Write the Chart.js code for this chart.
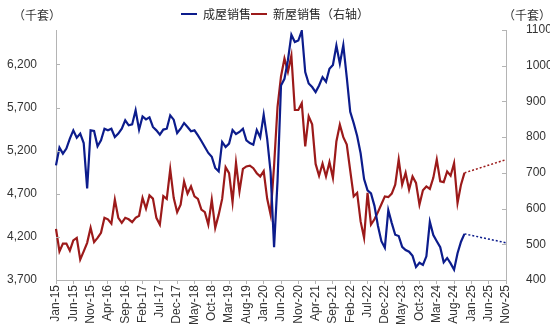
<!DOCTYPE html>
<html>
<head>
<meta charset="utf-8">
<script src="https://cdn.jsdelivr.net/npm/chart.js@4.4.1/dist/chart.umd.min.js"></script>
<style>
    html, body { margin: 0; padding: 0; background: #ffffff; }
    #chartBox { width: 550px; height: 334px; position: relative; }
</style>
</head>
<body>
<div id="chartBox"><canvas id="myChartSales"></canvas></div>
<script>
//DATA
const seriesNames = ['成屋销售', '新屋销售（右轴）'];
const seriesColors = ['#0c1c8c', '#9c1a1a'];
const unitLabel = '（千套）';

// existing home sales, left axis, Jan-15 onwards
const existingSales = [
    5030, 5236, 5166, 5224, 5340, 5436, 5351, 5398, 5289, 4761, 5436, 5428,
    5251, 5320, 5455, 5436, 5455, 5359, 5398, 5455, 5552, 5494, 5505, 5668,
    5444, 5598, 5563, 5586, 5475, 5436, 5386, 5445, 5455, 5610, 5560, 5405,
    5455, 5521, 5475, 5425, 5436, 5378, 5313, 5243, 5174, 5130, 5000, 4960,
    5301, 5243, 5282, 5440, 5393, 5417, 5455, 5320, 5289, 5270, 5440, 5355,
    5618, 5340, 4950, 4080, 4850, 5957, 6034, 6250, 6545, 6460, 6478, 6590,
    6111, 5980, 5938, 5880, 5957, 6053, 6000, 6150, 6195, 6420, 6210, 6425,
    6050, 5650, 5520, 5370, 5170, 4870, 4740, 4705, 4560, 4330, 4150, 4075,
    4510, 4360, 4225, 4210, 4085, 4048, 4028, 3980, 3850, 3900, 3875, 3975,
    4375, 4221, 4150, 4080, 3905, 3955, 3893, 3820, 4010, 4144, 4235
];

// new home sales, right axis
const newSales = [
    543, 480, 502, 502, 482, 511, 518, 457, 480, 504, 546, 506,
    518, 532, 574, 570, 558, 625, 574, 560, 574, 570, 562, 574,
    580, 630, 600, 637, 628, 574, 555, 635, 627, 710, 630, 590,
    611, 676, 642, 662, 634, 627, 597, 590, 555, 625, 546, 583,
    627, 716, 699, 618, 728, 648, 711, 718, 720, 713, 699, 690,
    705, 628, 583, 720, 885, 970, 1020, 983, 1028, 876, 876, 895,
    774, 858, 836, 725, 692, 726, 690, 730, 686, 788, 835, 800,
    779, 706, 634, 644, 564, 518, 644, 555, 570, 590, 612, 634,
    632, 642, 667, 737, 667, 700, 653, 690, 672, 611, 651, 662,
    655, 686, 737, 676, 674, 704, 692, 727, 616, 667, 700
];

// dotted trend to the end of the axis
const existingTrendEnd = 4132;
const newTrendEnd = 737;

// tick labels
const leftTicks = [3700, 4200, 4700, 5200, 5700, 6200];
const rightTicks = [400, 500, 600, 700, 800, 900, 1000, 1100];

//MONTH CATEGORIES Jan-15 .. Nov-25
const monthNames = ['Jan', 'Feb', 'Mar', 'Apr', 'May', 'Jun', 'Jul', 'Aug', 'Sep', 'Oct', 'Nov', 'Dec'];
const months = [];
for (let i = 0; i <= 130; i++) {
    let year = 15 + Math.floor(i / 12);
    months.push(monthNames[i % 12] + '-' + year);
}
const lastActual = existingSales.length - 1;

//SMALL INWARD TICKS ON BOTH VALUE AXES + UNIT LABELS
const axisDecor = {
    id: 'axisDecor',
    afterDraw: (chart) => {
        const ctx = chart.ctx;
        const area = chart.chartArea;
        ctx.save();
        ctx.strokeStyle = '#b4b4b4';
        ctx.lineWidth = 1;
        ['y', 'y1'].forEach((id) => {
            const scale = chart.scales[id];
            scale.ticks.forEach((t) => {
                let py = Math.round(scale.getPixelForValue(t.value)) + 0.5;
                let px = id === 'y' ? area.left : area.right;
                let dir = id === 'y' ? 1 : -1;
                ctx.beginPath();
                ctx.moveTo(px, py);
                ctx.lineTo(px + dir * 4, py);
                ctx.stroke();
            });
        });
        ctx.fillStyle = '#333333';
        ctx.font = '12px "Noto Sans CJK SC", sans-serif';
        ctx.textBaseline = 'middle';
        ctx.textAlign = 'center';
        ctx.fillText(unitLabel, area.left - 19, 15);
        ctx.fillText(unitLabel, area.right + 21, 15);
        ctx.restore();
    }
};

const tickFont = { family: '"Liberation Sans", Arial, sans-serif', size: 12 };

const ctx = document.getElementById('myChartSales');

new Chart(ctx, {
    type: 'line',
    data: {
        labels: months,
        datasets: [{
            label: seriesNames[0],
            data: existingSales,
            borderColor: seriesColors[0],
            backgroundColor: seriesColors[0],
            borderWidth: 2.2,
            pointRadius: 0,
            tension: 0,
            yAxisID: 'y'
        }, {
            label: seriesNames[1],
            data: newSales,
            borderColor: seriesColors[1],
            backgroundColor: seriesColors[1],
            borderWidth: 2.2,
            pointRadius: 0,
            tension: 0,
            yAxisID: 'y1'
        }, {
            label: 'trend0',
            data: [{ x: months[lastActual], y: existingSales[lastActual] }, { x: months[130], y: existingTrendEnd }],
            borderColor: seriesColors[0],
            borderWidth: 1.5,
            borderDash: [2, 2],
            pointRadius: 0,
            yAxisID: 'y'
        }, {
            label: 'trend1',
            data: [{ x: months[lastActual], y: newSales[lastActual] }, { x: months[130], y: newTrendEnd }],
            borderColor: seriesColors[1],
            borderWidth: 1.5,
            borderDash: [2, 2],
            pointRadius: 0,
            yAxisID: 'y1'
        }]
    },
    options: {
        responsive: true,
        maintainAspectRatio: false,
        animation: false,
        layout: { padding: { top: 8, left: 0, right: 0, bottom: 0 } },
        plugins: {
            legend: {
                position: 'top',
                labels: {
                    boxWidth: 16,
                    boxHeight: 2,
                    padding: 0,
                    color: '#262626',
                    font: { family: '"Noto Sans CJK SC", sans-serif', size: 12 },
                    generateLabels: () => seriesNames.map((name, k) => ({
                        text: name,
                        fillStyle: seriesColors[k],
                        strokeStyle: seriesColors[k],
                        lineWidth: 0,
                        datasetIndex: k,
                        fontColor: '#262626'
                    }))
                }
            },
            tooltip: { enabled: false }
        },
        scales: {
            x: {
                type: 'category',
                offset: false,
                grid: { display: true, drawOnChartArea: false, drawTicks: true, tickLength: 4, color: '#b4b4b4' },
                border: { display: true, color: '#b4b4b4' },
                ticks: {
                    autoSkip: false,
                    maxRotation: 90,
                    minRotation: 90,
                    padding: 1,
                    color: '#333333',
                    font: tickFont,
                    callback: function (value, index) {
                        return index % 5 === 0 ? this.getLabelForValue(value) : null;
                    }
                },
                afterFit: (scale) => { scale.height = 54; }
            },
            y: {
                position: 'left',
                min: 3700,
                max: 6600,
                grid: { display: false },
                border: { display: true, color: '#b4b4b4' },
                ticks: {
                    padding: 11,
                    color: '#333333',
                    font: tickFont,
                    callback: (v) => v.toLocaleString('en-US')
                },
                afterBuildTicks: (scale) => { scale.ticks = leftTicks.map((v) => ({ value: v })); },
                afterFit: (scale) => { scale.width = 56; }
            },
            y1: {
                position: 'right',
                min: 400,
                max: 1100,
                grid: { display: false },
                border: { display: true, color: '#b4b4b4' },
                ticks: {
                    padding: 12,
                    color: '#333333',
                    font: tickFont,
                    callback: (v) => String(v)
                },
                afterBuildTicks: (scale) => { scale.ticks = rightTicks.map((v) => ({ value: v })); },
                afterFit: (scale) => { scale.width = 44; }
            }
        }
    },
    plugins: [axisDecor]
});
</script>
</body>
</html>
